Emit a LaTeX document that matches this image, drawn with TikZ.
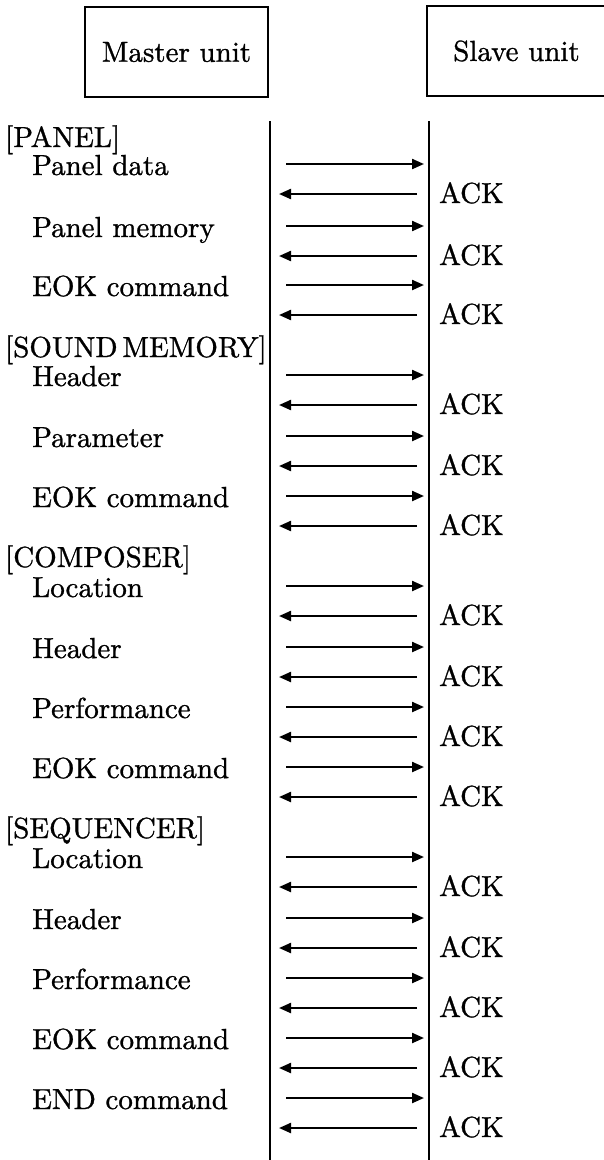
\documentclass[tikz,border=0pt]{standalone}
\usepackage{fontspec}
\setmainfont{lmroman10-regular}[Extension=.otf, RawFeature={embolden=1.0}]
\usetikzlibrary{arrows.meta}

\tikzset{
  unitbox/.style={draw, line width=1.3pt, minimum width=183pt, minimum height=90pt, inner sep=0pt},
  section/.style={anchor=base west, inner sep=0pt},
  item/.style={anchor=base west, inner sep=0pt},
  ack/.style={anchor=base west, inner sep=0pt},
  lifeline/.style={line width=1.2pt},
  msg/.style={-{Triangle[length=12pt, width=10pt]}, line width=2.2pt}
}

\begin{document}
\begin{tikzpicture}[x=1pt, y=-1pt, every node/.style={font=\fontsize{29pt}{34pt}\selectfont}]

    \useasboundingbox (0,0) rectangle (604,1160);

    % ユニット
    \node[unitbox] (master) at (176.5,52) {Master unit};
    \node[unitbox, minimum width=179pt] (slave) at (516.5,51) {Slave unit};

    % ライフライン
    \coordinate (mtop) at (270,121);
    \coordinate (mbot) at (270,1160);
    \coordinate (stop) at (429,121);
    \coordinate (sbot) at (429,1160);
    \draw[lifeline] (mtop) -- (mbot);
    \draw[lifeline] (stop) -- (sbot);

    % 区切り見出し
    \node[section] (panel) at (5,147) {[PANEL]};
    \node[section] (sound) at (5,357) {[SOUND\,MEMORY]};
    \node[section] (composer) at (5,567) {[COMPOSER]};
    \node[section] (sequencer) at (5,838) {[SEQUENCER]};

    % 送信データと ACK
    \foreach \n/\y/\t in {1/164/Panel data, 2/226/Panel memory, 3/285/EOK command,
                          4/375/Header, 5/436/Parameter, 6/496/EOK command,
                          7/586/Location, 8/647/Header, 9/707/Performance, 10/767/EOK command,
                          11/857/Location, 12/918/Header, 13/978/Performance, 14/1038/EOK command,
                          15/1098/END command} {
      \node[item] (item\n) at (32,\y+11) {\t};
      \coordinate (send\n) at (286,\y);
      \coordinate (recv\n) at (424,\y);
      \draw[msg] (send\n) -- (recv\n);
      \node[ack] (ack\n) at (439,\y+39) {ACK};
      \coordinate (ackfrom\n) at (417,\y+30);
      \coordinate (ackto\n) at (279,\y+30);
      \draw[msg] (ackfrom\n) -- (ackto\n);
    }

  \end{tikzpicture}
\end{document}
